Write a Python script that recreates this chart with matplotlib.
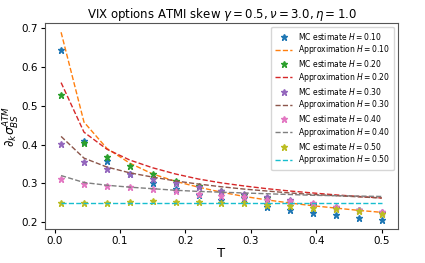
import matplotlib
matplotlib.use('Agg')
import matplotlib.pyplot as plt

# maturities
T = [0.01, 0.045, 0.08, 0.115, 0.15, 0.185, 0.22, 0.255, 0.29, 0.325,
     0.36, 0.395, 0.43, 0.465, 0.5]
H_values = [0.10, 0.20, 0.30, 0.40, 0.50]

# Monte Carlo skew estimates
mc_h10 = [0.645, 0.410, 0.357, 0.323, 0.301, 0.284, 0.269, 0.258, 0.263, 0.239,
          0.232, 0.224, 0.218, 0.211, 0.206]
mc_h20 = [0.528, 0.404, 0.368, 0.344, 0.323, 0.307, 0.294, 0.280, 0.270, 0.262,
          0.253, 0.245, 0.237, 0.230, 0.223]
mc_h30 = [0.401, 0.354, 0.337, 0.324, 0.311, 0.301, 0.291, 0.279, 0.272, 0.264,
          0.256, 0.247, 0.240, 0.232, 0.226]
mc_h40 = [0.310, 0.298, 0.294, 0.290, 0.284, 0.279, 0.273, 0.268, 0.264, 0.258,
          0.254, 0.248, 0.240, 0.232, 0.227]
mc_h50 = [0.249, 0.248, 0.250, 0.252, 0.253, 0.252, 0.251, 0.250, 0.248, 0.244,
          0.241, 0.237, 0.233, 0.228, 0.222]

# approximation formula values
ap_h10 = [0.690, 0.458, 0.390, 0.352, 0.324, 0.305, 0.290, 0.277, 0.266, 0.257,
          0.249, 0.242, 0.236, 0.230, 0.225]
ap_h20 = [0.560, 0.432, 0.388, 0.360, 0.340, 0.324, 0.311, 0.301, 0.293, 0.286,
          0.280, 0.275, 0.270, 0.266, 0.262]
ap_h30 = [0.421, 0.365, 0.342, 0.327, 0.316, 0.306, 0.298, 0.291, 0.285, 0.280,
          0.275, 0.271, 0.268, 0.265, 0.262]
ap_h40 = [0.320, 0.302, 0.295, 0.290, 0.286, 0.282, 0.279, 0.277, 0.275, 0.273,
          0.271, 0.269, 0.268, 0.267, 0.266]
ap_h50 = [0.250] * 15

mc_all = [mc_h10, mc_h20, mc_h30, mc_h40, mc_h50]
ap_all = [ap_h10, ap_h20, ap_h30, ap_h40, ap_h50]

fig = plt.figure(figsize=(4.25, 2.63), dpi=100)
ax = fig.add_axes([0.106, 0.129, 0.83, 0.784])

for H, mc, ap in zip(H_values, mc_all, ap_all):
    ax.plot(T, mc, '*', markersize=4.5, label=r'MC estimate $H = %.2f$' % H)
    ax.plot(T, ap, '--', linewidth=1.0, label=r'Approximation $H = %.2f$' % H)

ax.set_title(r'VIX options ATMI skew $\gamma = 0.5, \nu = 3.0, \eta = 1.0$', fontsize=8.5, pad=3)
ax.set_xlabel('T', fontsize=9.5, labelpad=1)
ax.set_ylabel(r'$\partial_k \sigma_{BS}^{ATM}$', fontsize=9)
ax.yaxis.set_label_coords(-0.066, 0.5)
ax.tick_params(labelsize=7.5, length=3, pad=2)
ax.set_xticks([0.0, 0.1, 0.2, 0.3, 0.4, 0.5])
ax.set_yticks([0.2, 0.3, 0.4, 0.5, 0.6, 0.7])
for s in ax.spines.values():
    s.set_linewidth(0.8)
    s.set_color('#555555')

ax.legend(loc='upper right', fontsize=5.5, labelspacing=0.23, handlelength=2.2,
          borderpad=0.5, framealpha=0.8)

fig.savefig('out.png', dpi=100)
